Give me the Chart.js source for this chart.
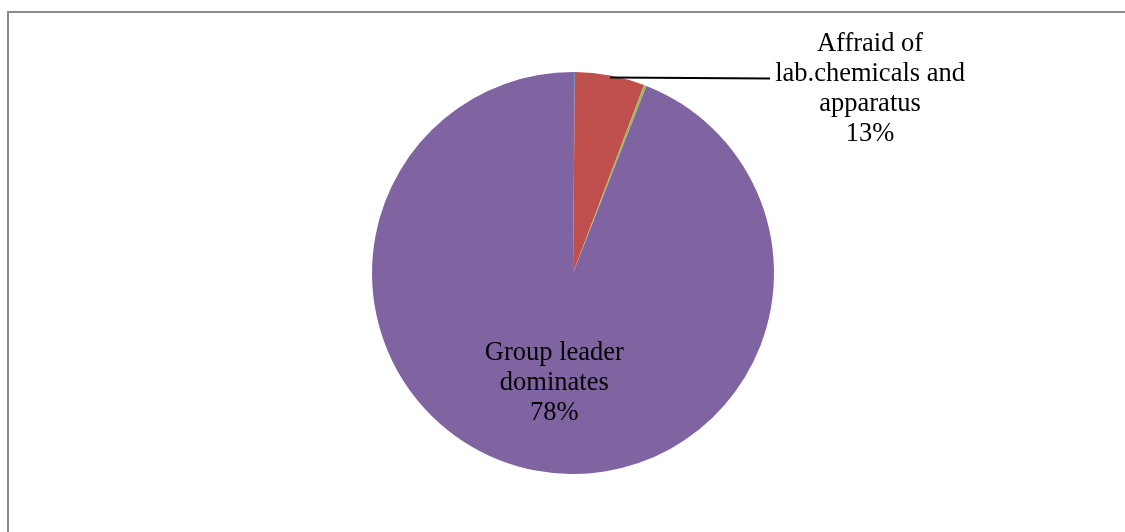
<!DOCTYPE html>
<html>
<head>
<meta charset="utf-8">
<script src="https://cdn.jsdelivr.net/npm/chart.js@4/dist/chart.umd.min.js"></script>
<style>
  body { margin: 0; background: #ffffff; overflow: hidden; }
  #frame { position: absolute; left: 7px; top: 11px; width: 1130px; height: 540px; border: 2px solid #8a8a8a; }
  #pie { position: absolute; left: 0; top: 0; }
</style>
</head>
<body>
<div id="frame"></div>
<canvas id="pie" width="1125" height="532"></canvas>
<script>
// categories (only two are labelled in the picture)
var categories = ["", "Affraid of lab.chemicals and apparatus", "", "Group leader dominates"];
// slice sizes as they look in the picture
var sliceValues = [0.15, 5.6, 0.2, 94.05];
// percentage text printed on the chart
var percentLabels = ["", "13%", "", "78%"];
var sliceColors = ["#4f81bd", "#c0504d", "#9bbb59", "#8064a2"];

// label lines for the two labelled slices
var labelLines = {
	1: ["Affraid of", "lab.chemicals and", "apparatus"],
	3: ["Group leader", "dominates"]
};

var labelPlugin = {
	id: "sliceLabels",
	afterDatasetsDraw: function(chart){
		var ctx = chart.ctx;
		var arcs = chart.getDatasetMeta(0).data;
		ctx.save();
		ctx.font = "26.5px 'Liberation Serif', 'Times New Roman', serif";
		ctx.fillStyle = "#000000";
		ctx.textAlign = "center";
		ctx.textBaseline = "middle";
		var lineH = 30;

		// red slice: leader line out to the right
		var a = arcs[1];
		var mid = (a.startAngle + a.endAngle) / 2;
		var px = a.x + a.outerRadius * Math.cos(mid);
		var py = a.y + a.outerRadius * Math.sin(mid) + 2;
		ctx.strokeStyle = "#000000";
		ctx.lineWidth = 2;
		ctx.beginPath();
		ctx.moveTo(px, py);
		ctx.lineTo(px + 160, py + 1);
		ctx.stroke();
		var lines = labelLines[1].concat([percentLabels[1]]);
		var cx = px + 260;
		var top = py + 12 - (lines.length - 1) * lineH / 2;
		for (var i = 0; i < lines.length; i++) {
			ctx.fillText(lines[i], cx, top + i * lineH);
		}

		// purple slice: label inside
		var b = arcs[3];
		var pos = b.tooltipPosition();
		var lines2 = labelLines[3].concat([percentLabels[3]]);
		var top2 = pos.y + 11 - (lines2.length - 1) * lineH / 2;
		for (var j = 0; j < lines2.length; j++) {
			ctx.fillText(lines2[j], pos.x, top2 + j * lineH);
		}
		ctx.restore();
	}
};

window.onload = function(){
	var canvas = document.getElementById("pie");
	new Chart(canvas, {
		type: "pie",
		data: {
			labels: categories,
			datasets: [{
				data: sliceValues,
				backgroundColor: sliceColors,
				borderWidth: 0,
				hoverOffset: 0,
				offset: 0
			}]
		},
		options: {
			responsive: false,
			animation: false,
			layout: { padding: { left: 372, right: 351, top: 72, bottom: 58 } },
			plugins: {
				legend: { display: false },
				tooltip: { enabled: false }
			}
		},
		plugins: [labelPlugin]
	});
};
</script>
</body>
</html>
